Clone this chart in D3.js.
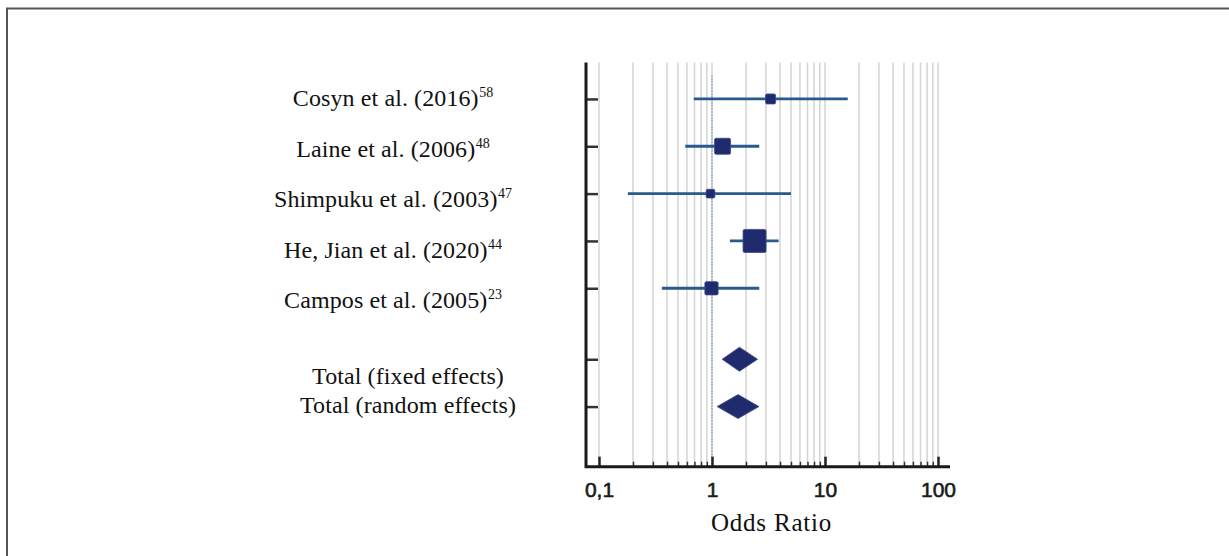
<!DOCTYPE html>
<html lang="en">
<head>
    <meta charset="UTF-8">
    <title>Forest plot - Odds Ratio</title>
    <script src="https://d3js.org/d3.v7.min.js"></script>
    <style>
        body { margin: 0; background: #fff; }
        svg { display: block; }
    </style>
</head>
<body>
    <svg width="1229" height="556"></svg>
    <script>
        const width = 1229;
        const height = 556;

        // study rows
        const studies = ['Cosyn et al. (2016)', 'Laine et al. (2006)', 'Shimpuku et al. (2003)', 'He, Jian et al. (2020)', 'Campos et al. (2005)'];
        const refs = ['58', '48', '47', '44', '23'];
        const oddsRatio = [3.30, 1.24, 0.97, 2.38, 0.99];
        const lower = [0.69, 0.58, 0.18, 1.44, 0.36];
        const upper = [15.9, 2.62, 5.0, 3.89, 2.62];
        const weights = [8.8, 22.5, 6.7, 46.5, 15.5];

        // pooled rows
        const totals = ['Total (fixed effects)', 'Total (random effects)'];
        const totalOR = [1.75, 1.70];
        const totalLower = [1.23, 1.11];
        const totalUpper = [2.53, 2.60];

        const tickValues = [0.1, 1, 10, 100];
        const tickLabels = ['0,1', '1', '10', '100'];

        const navy = '#1f2b6c';
        const lineBlue = '#285a8e';

        const x = d3.scaleLog()
            .domain([0.1, 100])
            .range([599, 938]);

        // row index -> y; pooled rows sit at 5.5 and 6.5
        const y = d3.scaleLinear()
            .domain([-0.77, 7.77])
            .range([62.5, 466.7]);

        const labelY = d3.scaleLinear()
            .domain([0, 4])
            .range([106, 308]);

        const size = d3.scaleSqrt()
            .domain([0, d3.max(weights)])
            .range([0, 23]);

        const rows = studies.map((name, i) => ({
            name, ref: refs[i], or: oddsRatio[i], lo: lower[i], hi: upper[i], w: weights[i], row: i
        }));
        const pooled = totals.map((name, i) => ({
            name, or: totalOR[i], lo: totalLower[i], hi: totalUpper[i], row: 5.5 + i
        }));

        const svg = d3.select('svg');
        const x0 = x.range()[0] - 13;
        const x1 = x.range()[1] + 12;
        const yTop = y.range()[0];
        const yBot = y.range()[1];

        // frame
        svg.append('path')
            .attr('d', `M7,${height} V8.5 H${width}`)
            .attr('fill', 'none')
            .attr('stroke', '#555')
            .attr('stroke-width', 2);

        // grid
        svg.append('g')
            .selectAll('line').data(x.ticks()).join('line')
            .attr('x1', d => x(d)).attr('x2', d => x(d))
            .attr('y1', yTop).attr('y2', yBot)
            .attr('stroke', '#d4d4d4')
            .attr('stroke-width', 1.5);

        // line of no effect
        svg.append('line')
            .attr('x1', x(1)).attr('x2', x(1))
            .attr('y1', y(-0.5)).attr('y2', yBot)
            .attr('stroke', '#6f93bb')
            .attr('stroke-width', 1.2)
            .attr('stroke-dasharray', '1.5,1.5');

        // minor x ticks
        svg.append('g')
            .attr('transform', `translate(0, ${yBot})`)
            .call(d3.axisBottom(x).tickValues(x.ticks().filter(d => !tickValues.includes(d)))
                .tickSizeInner(-5).tickSizeOuter(0).tickFormat(''))
            .call(g => g.select('.domain').remove())
            .call(g => g.selectAll('.tick line').attr('stroke', '#333').attr('stroke-width', 1.5));

        // major x ticks + labels
        svg.append('g')
            .attr('transform', `translate(0, ${yBot})`)
            .call(d3.axisBottom(x).tickValues(tickValues)
                .tickSizeInner(-10).tickSizeOuter(0).tickPadding(15)
                .tickFormat((d, i) => tickLabels[i]))
            .call(g => g.select('.domain').remove())
            .call(g => g.selectAll('.tick line').attr('stroke', '#222').attr('stroke-width', 2.5))
            .call(g => g.selectAll('.tick text')
                .attr('font-family', '"Liberation Sans", Arial, sans-serif')
                .attr('font-size', 21)
                .attr('fill', '#1a1a1a')
                .attr('stroke', '#1a1a1a')
                .attr('stroke-width', 0.6));

        // y ticks
        svg.append('g')
            .attr('transform', `translate(${x0}, 0)`)
            .call(d3.axisLeft(y).tickValues([...rows, ...pooled].map(d => d.row))
                .tickSizeInner(-12).tickSizeOuter(0).tickFormat(''))
            .call(g => g.select('.domain').remove())
            .call(g => g.selectAll('.tick line').attr('stroke', '#333').attr('stroke-width', 2.5));

        // axis lines
        svg.append('path')
            .attr('d', `M${x0},${yTop} V${yBot} H${x1}`)
            .attr('fill', 'none')
            .attr('stroke', '#1a1a1a')
            .attr('stroke-width', 3);

        // confidence intervals
        svg.append('g')
            .selectAll('line').data(rows).join('line')
            .attr('x1', d => x(d.lo)).attr('x2', d => x(d.hi))
            .attr('y1', d => y(d.row)).attr('y2', d => y(d.row))
            .attr('stroke', lineBlue)
            .attr('stroke-width', 2.8);

        // study squares
        svg.append('g')
            .selectAll('rect').data(rows).join('rect')
            .attr('x', d => x(d.or) - size(d.w) / 2)
            .attr('y', d => y(d.row) - size(d.w) / 2)
            .attr('width', d => size(d.w))
            .attr('height', d => size(d.w))
            .attr('rx', 1.5)
            .attr('fill', navy)
            .attr('stroke', '#3a4a8a')
            .attr('stroke-width', 0.8);

        // pooled diamonds
        const dh = 12;
        svg.append('g')
            .selectAll('path').data(pooled).join('path')
            .attr('d', d => `M${x(d.lo)},${y(d.row)} L${x(d.or)},${y(d.row) - dh} L${x(d.hi)},${y(d.row)} L${x(d.or)},${y(d.row) + dh} Z`)
            .attr('fill', navy)
            .attr('stroke', '#3a4a8a')
            .attr('stroke-width', 0.8);

        // row labels
        const serif = '"Liberation Serif", "Times New Roman", serif';
        const lab = svg.append('g')
            .attr('font-family', serif)
            .attr('font-size', 24)
            .attr('letter-spacing', 0.1)
            .attr('fill', '#111')
            .attr('text-anchor', 'middle');

        const st = lab.selectAll('text.study').data(rows).join('text')
            .attr('class', 'study')
            .attr('x', 393)
            .attr('y', d => labelY(d.row));
        st.append('tspan').text(d => d.name);
        st.append('tspan')
            .attr('font-size', 14)
            .attr('letter-spacing', 0)
            .attr('dx', 0.5)
            .attr('dy', -9)
            .text(d => d.ref);

        lab.selectAll('text.total').data(pooled).join('text')
            .attr('class', 'total')
            .attr('x', 408)
            .attr('y', (d, i) => [384, 413][i])
            .text(d => d.name);

        // axis title
        svg.append('text')
            .attr('x', (x(1) + x(10)) / 2 + 3)
            .attr('y', 531)
            .attr('text-anchor', 'middle')
            .attr('font-family', serif)
            .attr('font-size', 25)
            .attr('letter-spacing', 0.8)
            .attr('fill', '#111')
            .text('Odds Ratio');
    </script>
</body>
</html>
